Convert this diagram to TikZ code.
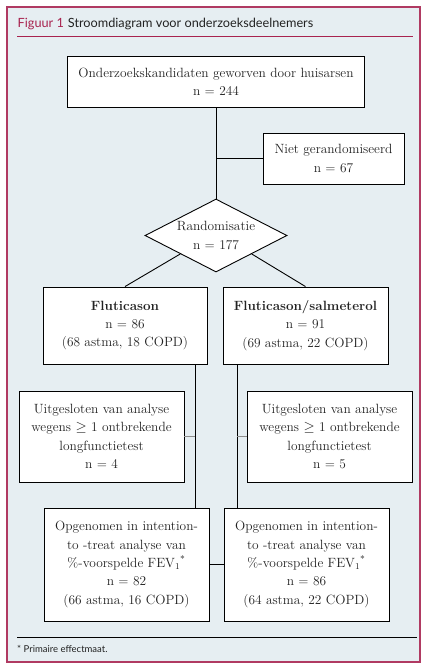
\documentclass[tikz,border=0pt]{standalone}
\usepackage{fontspec}
\newfontfamily\titlefont{Lato}
\usetikzlibrary{shapes.geometric,calc}
\definecolor{frameRed}{HTML}{B03A62}
\definecolor{titleRed}{HTML}{A8234F}
\definecolor{bgBlue}{HTML}{E6EEF2}
\definecolor{txt}{HTML}{222222}
\definecolor{stubGray}{HTML}{8C8C8C}
\begin{document}
\begin{tikzpicture}[x=1pt,y=-1pt,
  box/.style={draw=black,line width=0.9pt,fill=white,rectangle,inner sep=0pt,
    align=center,text=txt,font=\fontsize{13.4}{18.4}\selectfont},
  conn/.style={draw=black,line width=0.9pt},
  stub/.style={draw=stubGray,line width=1.6pt}]
\useasboundingbox (0,0) rectangle (428,669);
\fill[white] (0,0) rectangle (428,669);
\draw[fill=bgBlue,draw=frameRed,line width=1.5pt] (7,7) rectangle (420,662);
\node[anchor=base west,inner sep=0pt,font=\titlefont\fontsize{12.7}{14}\selectfont] (title) at (17.5,27.5)
  {\textcolor{titleRed}{Figuur 1}\hspace{4pt}\textcolor{txt}{Stroomdiagram voor onderzoeksdeelnemers}};
\coordinate (trL) at (17,36);
\coordinate (trR) at (413,36);
\draw[titleRed,line width=0.8pt] (trL) -- (trR);

\node[box,minimum width=297pt,minimum height=51pt] (top) at (216,81.5)
  {Onderzoekskandidaten geworven door huisarsen\\n = 244};
\node[box,minimum width=141pt,minimum height=51pt] (niet) at (333.5,158.5)
  {Niet gerandomiseerd\\n = 67};
\node[draw=black,line width=0.9pt,fill=white,diamond,minimum width=142pt,minimum height=73pt,inner sep=0pt] (d) at (216,235.5) {};
\node[align=center,inner sep=0pt,text=txt,font=\fontsize{13.4}{18.4}\selectfont] (dtext) at (d) {Randomisatie\\n = 177};

\node[box,minimum width=164pt,minimum height=77pt] (f1) at (125,325.5)
  {\textbf{Fluticason}\\n = 86\\(68 astma, 18 COPD)};
\node[box,minimum width=165pt,minimum height=77pt] (f2) at (305.5,325.5)
  {\textbf{Fluticason/salmeterol}\\n = 91\\(69 astma, 22 COPD)};

\node[box,minimum width=165pt,minimum height=91pt] (e1) at (101.5,436.5)
  {Uitgesloten van analyse\\wegens $\geq$ 1 ontbrekende\\longfunctietest\\n = 4};
\node[box,minimum width=165pt,minimum height=91pt] (e2) at (329.5,436.5)
  {Uitgesloten van analyse\\wegens $\geq$ 1 ontbrekende\\longfunctietest\\n = 5};

\node[box,minimum width=165pt,minimum height=113pt] (b1) at (126.5,564.5)
  {Opgenomen in intention-\\to -treat analyse van\\\%-voorspelde FEV$_1$\textsuperscript{*}\\n = 82\\(66 astma, 16 COPD)};
\node[box,minimum width=165pt,minimum height=113pt] (b2) at (306.5,564.5)
  {Opgenomen in intention-\\to -treat analyse van\\\%-voorspelde FEV$_1$\textsuperscript{*}\\n = 86\\(64 astma, 22 COPD)};

\coordinate (vl) at (195,0);
\coordinate (vr) at (237,0);

\draw[conn] (top.south) -- (d.north);
\draw[conn] (niet.west -| top.south) -- (niet.west);
\draw[conn] ($(d.west)!0.5!(d.south)$) -- (f1.north);
\draw[conn] ($(d.east)!0.5!(d.south)$) -- (f2.north);
\draw[conn] (f1.south -| vl) -- (b1.north -| vl);
\draw[conn] (f2.south -| vr) -- (b2.north -| vr);
\draw[stub] (e1.east) -- (e1.east -| vl);
\draw[stub] (e2.west) -- (e2.west -| vr);
\draw[conn] (b1.east) -- (b2.west);

\coordinate (frL) at (17,637);
\coordinate (frR) at (417,637);
\draw[black,line width=0.6pt] (frL) -- (frR);
\node[anchor=base west,inner sep=0pt,text=txt,font=\titlefont\fontsize{9.5}{11}\selectfont] (foot) at (17,652.5) {* Primaire effectmaat.};
\end{tikzpicture}
\end{document}
